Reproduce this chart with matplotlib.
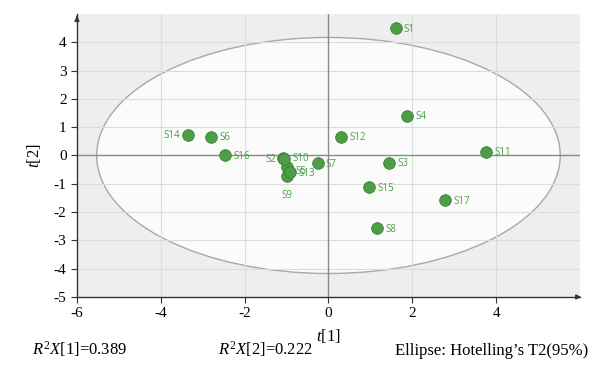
import matplotlib
matplotlib.use('Agg')
import matplotlib.pyplot as plt
from matplotlib.patches import Ellipse

plt.rcParams['mathtext.fontset'] = 'custom'
plt.rcParams['mathtext.it'] = 'Liberation Serif:italic'
plt.rcParams['mathtext.rm'] = 'Liberation Serif'

# sample scores
samples = ['S1', 'S2', 'S3', 'S4', 'S5', 'S6', 'S7', 'S8', 'S9',
           'S10', 'S11', 'S12', 'S13', 'S14', 'S15', 'S16', 'S17']
t1 = [1.60, -1.08, 1.44, 1.87, -0.98, -2.80, -0.26, 1.15, -1.00,
      -1.05, 3.76, 0.31, -0.91, -3.35, 0.96, -2.46, 2.78]
t2 = [4.49, -0.08, -0.25, 1.41, -0.42, 0.67, -0.28, -2.58, -0.71,
      -0.14, 0.14, 0.67, -0.60, 0.71, -1.13, 0.00, -1.59]

# label offsets in points (dx, dy, ha)
label_pos = {'S14': (-6, 0, 'right'), 'S2': (-5, -1, 'right'),
             'S9': (0, -14, 'center'), 'S10': (6, 1, 'left'),
             'S5': (6, -3, 'left'), 'S13': (6, -1, 'left')}

ell_a, ell_b = 5.53, 4.17
r2x = [0.389, 0.222]

green = '#4c9f45'
edge = '#3a7d34'

fig = plt.figure(figsize=(6.06, 3.68), dpi=100)
ax = fig.add_axes([0.127, 0.193, 0.83, 0.769])
ax.set_facecolor('#efeeee')
ax.set_xlim(-6, 6)
ax.set_ylim(-5, 5)

ax.add_patch(Ellipse((0, 0), 2 * ell_a, 2 * ell_b, facecolor='#fbfbfb',
                     edgecolor='#a8a8a8', lw=1.0, zorder=1))

for gx in [-4, -2, 2, 4]:
    ax.axvline(gx, color='#dcdcdc', lw=0.8, zorder=2)
for gy in [-4, -3, -2, -1, 1, 2, 3, 4]:
    ax.axhline(gy, color='#dcdcdc', lw=0.8, zorder=2)
ax.axvline(0, color='#8a8a8a', lw=1.0, zorder=2)
ax.axhline(0, color='#8a8a8a', lw=1.0, zorder=2)

ax.scatter(t1, t2, s=70, c=green, edgecolors=edge, linewidths=0.6, zorder=4)
for name, x, y in zip(samples, t1, t2):
    dx, dy, ha = label_pos.get(name, (6, -1, 'left'))
    ax.annotate(name, (x, y), xytext=(dx, dy), textcoords='offset points',
                ha=ha, va='center', fontsize=7, color=green,
                family='Open Sans', zorder=5)

for s in ['top', 'right']:
    ax.spines[s].set_visible(False)
for s in ['left', 'bottom']:
    ax.spines[s].set_color('#333333')
    ax.spines[s].set_linewidth(1.0)

# arrow heads on the axes
ax.annotate('', xy=(1.008, 0), xycoords='axes fraction', xytext=(0.99, 0),
            arrowprops=dict(arrowstyle='-|>', color='#333333', lw=1.0,
                            mutation_scale=7), annotation_clip=False)
ax.annotate('', xy=(0, 1.003), xycoords='axes fraction', xytext=(0, 0.98),
            arrowprops=dict(arrowstyle='-|>', color='#333333', lw=1.0,
                            mutation_scale=7), annotation_clip=False)

ax.set_xticks([-6, -4, -2, 0, 2, 4])
ax.set_yticks([-5, -4, -3, -2, -1, 0, 1, 2, 3, 4])
ax.set_xticklabels(['-6', '-4', '-2', '0', '2', '4'])
ax.set_yticklabels([str(v) for v in range(-5, 5)])
ax.tick_params(labelsize=11, length=4, color='#333333', direction='out')
for lab in ax.get_xticklabels() + ax.get_yticklabels():
    lab.set_family('Liberation Serif')

ax.set_xlabel(r'$t$[1]', fontsize=12, family='Liberation Serif', labelpad=5)
ax.set_ylabel(r'$t$[2]', fontsize=12, family='Liberation Serif', labelpad=8)

fig.text(0.053, 0.035, r'$R^2X$[1]=%.3f' % r2x[0], fontsize=12,
         family='Liberation Serif')
fig.text(0.36, 0.035, r'$R^2X$[2]=%.3f' % r2x[1], fontsize=12,
         family='Liberation Serif')
fig.text(0.97, 0.035, 'Ellipse: Hotelling\u2019s T2(95%)', fontsize=12,
         family='Liberation Serif', ha='right')

fig.savefig('out.png', dpi=100)
